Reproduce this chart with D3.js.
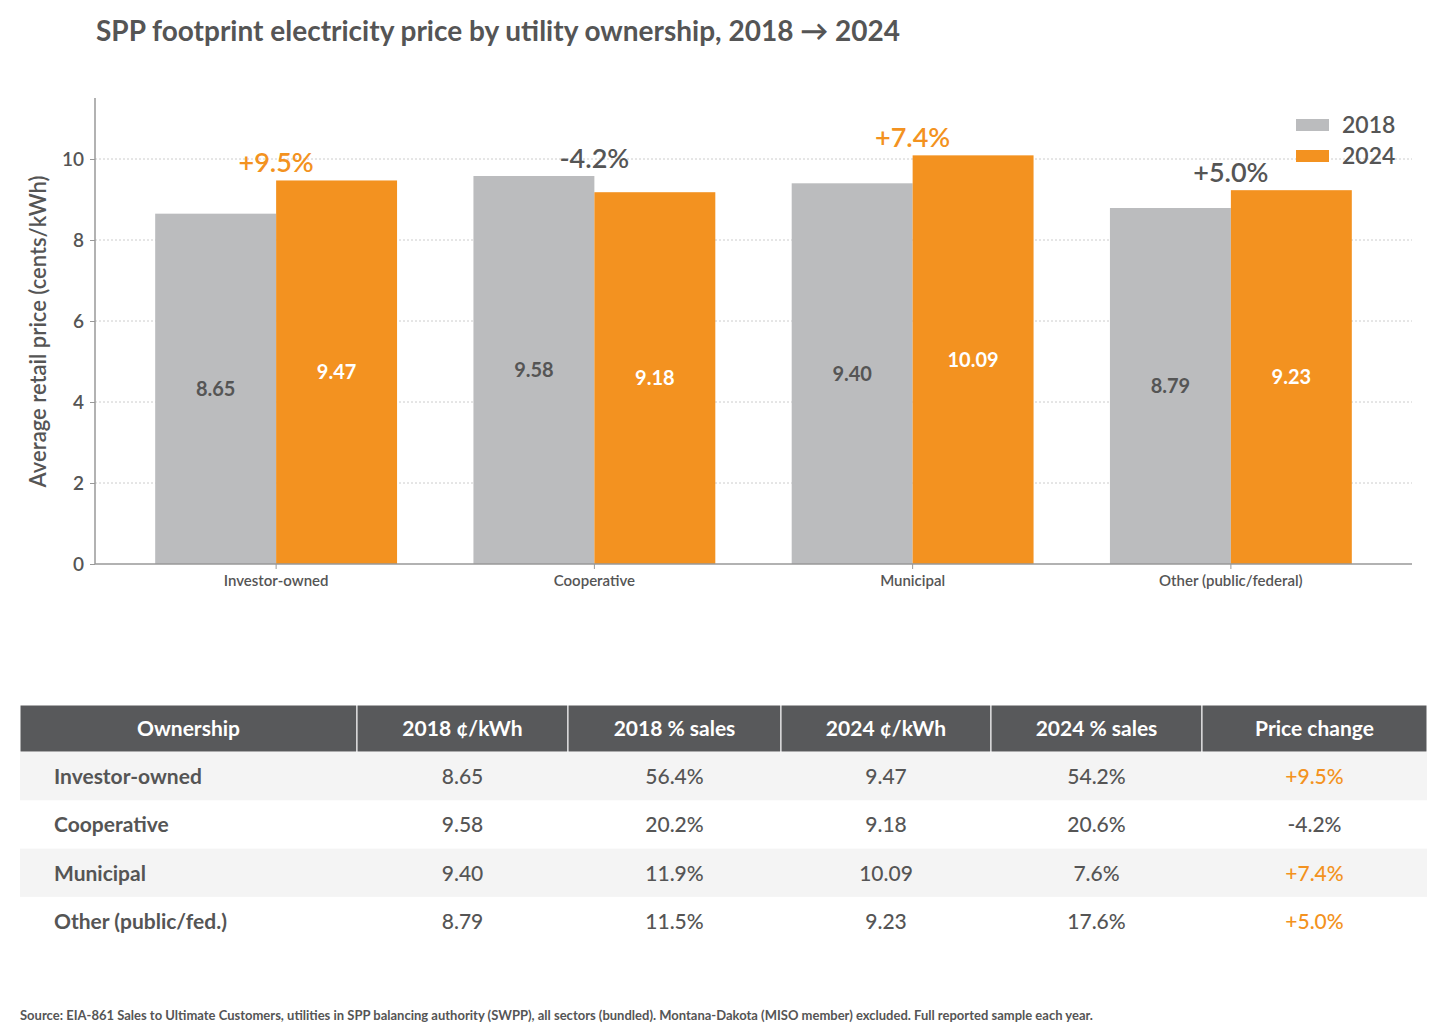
<!DOCTYPE html>
<html><head><meta charset="utf-8">
<script src="https://cdn.jsdelivr.net/npm/d3@7"></script>
<style>body{margin:0;background:#fff;font-family:Lato,sans-serif}</style>
</head><body><svg id="c" width="1456" height="1035"></svg>
<script>
const categories = ["Investor-owned","Cooperative","Municipal","Other (public/federal)"];
const tableNames = ["Investor-owned","Cooperative","Municipal","Other (public/fed.)"];
const price2018 = [8.65,9.58,9.40,8.79];
const price2024 = [9.47,9.18,10.09,9.23];
const sales2018 = ["56.4%","20.2%","11.9%","11.5%"];
const sales2024 = ["54.2%","20.6%","7.6%","17.6%"];
const changes = [9.5,-4.2,7.4,5.0];
const years = ["2018","2024"];
const yTicks = [0,2,4,6,8,10];
const headers = ["Ownership","2018 ¢/kWh","2018 % sales","2024 ¢/kWh","2024 % sales","Price change"];

const ORANGE="#f39220", GRAY="#bbbcbe", DARK="#555";
const svg=d3.select("#c");
const fmtPct=v=>(v>0?"+":"")+v.toFixed(1)+"%";

svg.append("text").attr("x",96).attr("y",41).attr("font-size",28).attr("font-weight",700)
 .attr("fill",DARK).text("SPP footprint electricity price by utility ownership, 2018 → 2024");

const L=95,R=1412,B=564;
const y=d3.scaleLinear().domain([0,10]).range([B,159]);
const x=d3.scaleBand().domain(categories).range([117,1390]).paddingInner(0.24).paddingOuter(0.12);
const xs=d3.scaleBand().domain(years).range([0,x.bandwidth()]);
const g=svg.append("g");
// grid
g.selectAll(".gr").data(yTicks.filter(d=>d>0)).join("line").attr("x1",L).attr("x2",R)
 .attr("y1",d=>y(d)).attr("y2",d=>y(d)).attr("stroke","#ccc").attr("stroke-dasharray","2,2");
// y axis
const ya=g.append("g").attr("transform",`translate(${L},0)`).call(d3.axisLeft(y).tickValues(yTicks).tickSize(5).tickPadding(6));
ya.select(".domain").remove();
ya.selectAll("line").attr("stroke","#999");
ya.selectAll("text").attr("font-size",19).attr("font-family","Lato").attr("fill",DARK).attr("font-weight",600);
g.append("line").attr("x1",L).attr("x2",L).attr("y1",98).attr("y2",B).attr("stroke","#999").attr("stroke-width",1.5);
g.append("text").attr("transform",`translate(46,${(B+159)/2-30}) rotate(-90)`).attr("text-anchor","middle")
 .attr("font-size",22).attr("font-weight",600).attr("fill",DARK).text("Average retail price (cents/kWh)");
// bars
categories.forEach((c,i)=>{
  const vals=[price2018[i],price2024[i]];
  years.forEach((yr,j)=>{
    const bx=x(c)+xs(yr), v=vals[j];
    g.append("rect").attr("x",bx).attr("y",y(v)).attr("width",xs.bandwidth()).attr("height",B-y(v))
     .attr("fill",j?ORANGE:GRAY);
    g.append("text").attr("x",bx+xs.bandwidth()/2).attr("y",y(v/2)+7).attr("text-anchor","middle")
     .attr("font-size",20).attr("font-weight",700).attr("fill",j?"#fff":DARK).text(v.toFixed(2));
  });
  const top=Math.max(...vals);
  g.append("text").attr("x",x(c)+x.bandwidth()/2).attr("y",y(top)-8).attr("text-anchor","middle")
   .attr("font-size",27).attr("font-weight",600).attr("fill",changes[i]>5?ORANGE:DARK).text(fmtPct(changes[i]));
});
// x axis
g.append("line").attr("x1",L).attr("x2",R).attr("y1",B).attr("y2",B).attr("stroke","#999").attr("stroke-width",1.5);
const xa=g.append("g").attr("transform",`translate(0,${B})`).call(d3.axisBottom(x).tickSize(5).tickPadding(6));
xa.select(".domain").remove(); xa.selectAll("line").attr("stroke","#999");
xa.selectAll("text").attr("font-size",15).attr("font-family","Lato").attr("font-weight",600).attr("fill",DARK);
// legend
years.forEach((yr,j)=>{
  g.append("rect").attr("x",1296).attr("y",119+j*31).attr("width",33).attr("height",12).attr("fill",j?ORANGE:GRAY);
  g.append("text").attr("x",1342).attr("y",133+j*31).attr("font-size",23).attr("font-weight",600).attr("fill",DARK).text(yr);
});
// table
const colX=[20,357,568,781,991,1202,1427];
const ht=705,hh=47,rh=48.3;
headers.forEach((h,k)=>{
  svg.append("rect").attr("x",colX[k]).attr("y",ht).attr("width",colX[k+1]-colX[k]).attr("height",hh).attr("fill","#58595b").attr("stroke","#fff").attr("stroke-width",1);
  svg.append("text").attr("x",(colX[k]+colX[k+1])/2).attr("y",ht+31).attr("text-anchor","middle")
   .attr("font-size",21).attr("font-weight",700).attr("fill","#fff").text(h);
});
tableNames.forEach((n,i)=>{
  const ry=ht+hh+i*rh;
  if(i%2===0) svg.append("rect").attr("x",20).attr("y",ry).attr("width",1407).attr("height",rh).attr("fill","#f4f4f4");
  const cells=[n,price2018[i].toFixed(2),sales2018[i],price2024[i].toFixed(2),sales2024[i],fmtPct(changes[i])];
  cells.forEach((t,k)=>{
    svg.append("text").attr("x",k===0?54:(colX[k]+colX[k+1])/2).attr("y",ry+32)
     .attr("text-anchor",k===0?"start":"middle").attr("font-size",21).attr("font-weight",k===0?700:500)
     .attr("fill",k===5&&changes[i]>0?ORANGE:DARK).text(t);
  });
});
svg.append("text").attr("x",20).attr("y",1020).attr("font-size",13).attr("font-weight",700).attr("fill",DARK)
 .text("Source: EIA-861 Sales to Ultimate Customers, utilities in SPP balancing authority (SWPP), all sectors (bundled). Montana-Dakota (MISO member) excluded. Full reported sample each year.");
</script></body></html>
